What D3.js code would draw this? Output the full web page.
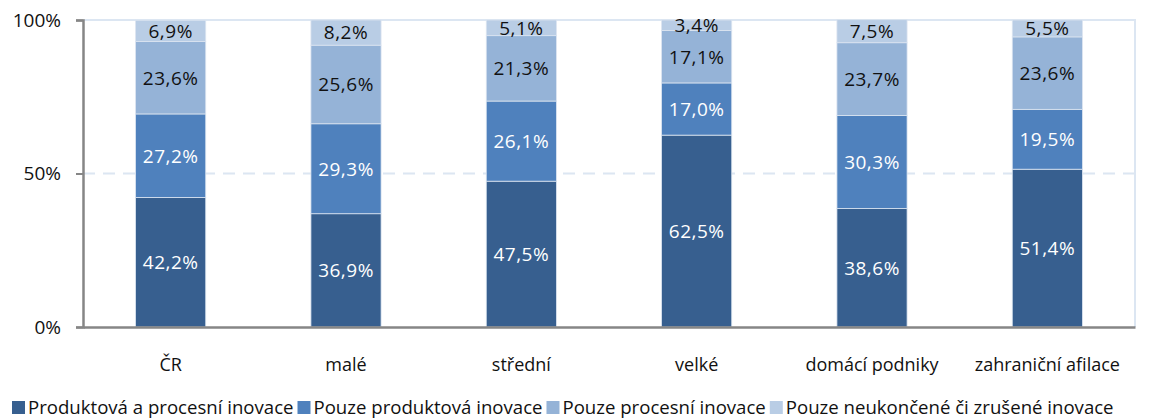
<!DOCTYPE html>
<html>
<head>
<meta charset="utf-8">
<script src="https://cdn.jsdelivr.net/npm/d3@7"></script>
<style>
  body { margin: 0; background: #fff; }
  svg { display: block; }
</style>
</head>
<body>
<script>
const categories = ['ČR', 'malé', 'střední', 'velké', 'domácí podniky', 'zahraniční afilace']
const seriesNames = ['Produktová a procesní inovace', 'Pouze produktová inovace', 'Pouze procesní inovace', 'Pouze neukončené či zrušené inovace']
const prodProc = [42.2, 36.9, 47.5, 62.5, 38.6, 51.4]
const prodOnly = [27.2, 29.3, 26.1, 17.0, 30.3, 19.5]
const procOnly = [23.6, 25.6, 21.3, 17.1, 23.7, 23.6]
const unfinished = [6.9, 8.2, 5.1, 3.4, 7.5, 5.5]
const yTicks = [0, 50, 100]

const colors = ['#375f8f', '#4f81bd', '#95b3d7', '#b9cde5']
const labelColors = ['#fff', '#fff', '#111', '#111']

const width = 1160
const height = 419
const margin = { top: 20, right: 25, bottom: 92, left: 83 }

const seriesValues = [prodProc, prodOnly, procOnly, unfinished]
const rows = categories.map((c, i) => {
  const r = { cat: c }
  seriesNames.forEach((s, j) => { r[s] = seriesValues[j][i] })
  return r
})

const stack = d3.stack().keys(seriesNames)
const layers = stack(rows)

const svg = d3.select('body')
  .append('svg')
  .attr('width', width)
  .attr('height', height)

const x = d3.scaleBand()
  .domain(categories)
  .range([margin.left, width - margin.right])
  .paddingInner(0.6)
  .paddingOuter(0.3)

const y = d3.scaleLinear()
  .domain([0, 100])
  .range([height - margin.bottom, margin.top])

// plot border (top + right)
svg.append('path')
  .attr('d', `M${margin.left},${y(100)}H${width - margin.right}V${y(0)}`)
  .attr('fill', 'none')
  .attr('stroke', '#dce6f2')
  .attr('stroke-width', 2)

// dashed gridline at 50 %
svg.append('g')
  .selectAll('line')
  .data(yTicks.filter(t => t > 0 && t < 100))
  .join('line')
  .attr('x1', margin.left)
  .attr('x2', width - margin.right)
  .attr('y1', d => y(d))
  .attr('y2', d => y(d))
  .attr('stroke', '#dce6f2')
  .attr('stroke-width', 2)
  .attr('stroke-dasharray', '12,8')

const layerG = svg.append('g')
  .selectAll('g')
  .data(layers)
  .join('g')
  .attr('fill', (d, i) => colors[i])

layerG.selectAll('rect')
  .data(d => d)
  .join('rect')
  .attr('x', d => x(d.data.cat))
  .attr('width', x.bandwidth())
  .attr('y', d => y(d[1]))
  .attr('height', d => y(d[0]) - y(d[1]))
  .attr('stroke', '#dbe4f0')
  .attr('stroke-width', 0.8)

layerG.selectAll('text')
  .data((d, i) => d.map(p => ({ p, i, key: d.key })))
  .join('text')
  .attr('x', d => x(d.p.data.cat) + x.bandwidth() / 2)
  .attr('y', d => (y(d.p[0]) + y(d.p[1])) / 2)
  .attr('dy', '0.36em')
  .attr('text-anchor', 'middle')
  .attr('fill', d => labelColors[d.i])
  .style('font-family', '"Open Sans", sans-serif')
  .style('font-size', '19px')
  .style('letter-spacing', '0.5px')
  .text(d => d3.format('.1f')(d.p.data[d.key]).replace('.', ',') + '%')

// y axis
const yAxis = d3.axisLeft(y)
  .tickValues(yTicks)
  .tickFormat(d => d + '%')
  .tickSize(7)
  .tickPadding(15)

const yg = svg.append('g')
  .attr('transform', `translate(${margin.left},0)`)
  .call(yAxis)
yg.select('.domain').attr('stroke', '#868686').attr('stroke-width', 2.5)
yg.selectAll('.tick line').attr('stroke', '#868686').attr('stroke-width', 2)
yg.selectAll('.tick text')
  .attr('fill', '#111')
  .style('font-family', '"Open Sans", sans-serif')
  .style('font-size', '19px')

// x axis
const xAxis = d3.axisBottom(x).tickSize(0).tickPadding(31)
const xg = svg.append('g')
  .attr('transform', `translate(0,${y(0)})`)
  .call(xAxis)
xg.select('.domain').attr('stroke', '#868686').attr('stroke-width', 2.5)
xg.selectAll('.tick text')
  .attr('fill', '#111')
  .style('font-family', '"Open Sans", sans-serif')
  .style('font-size', '18px')

// legend
const legend = svg.append('g').attr('transform', 'translate(12,407)')
let lx = 0
seriesNames.forEach((name, i) => {
  const item = legend.append('g').attr('transform', `translate(${lx},0)`)
  item.append('rect')
    .attr('x', 0).attr('y', -6)
    .attr('width', 13).attr('height', 13)
    .attr('fill', colors[i])
  const t = item.append('text')
    .attr('x', 16)
    .attr('dy', '0.36em')
    .attr('fill', '#111')
    .style('font-family', '"Open Sans", sans-serif')
    .style('font-size', '18.6px')
    .text(name)
  lx += 16 + t.node().getComputedTextLength() + 4
})
</script>
</body>
</html>
